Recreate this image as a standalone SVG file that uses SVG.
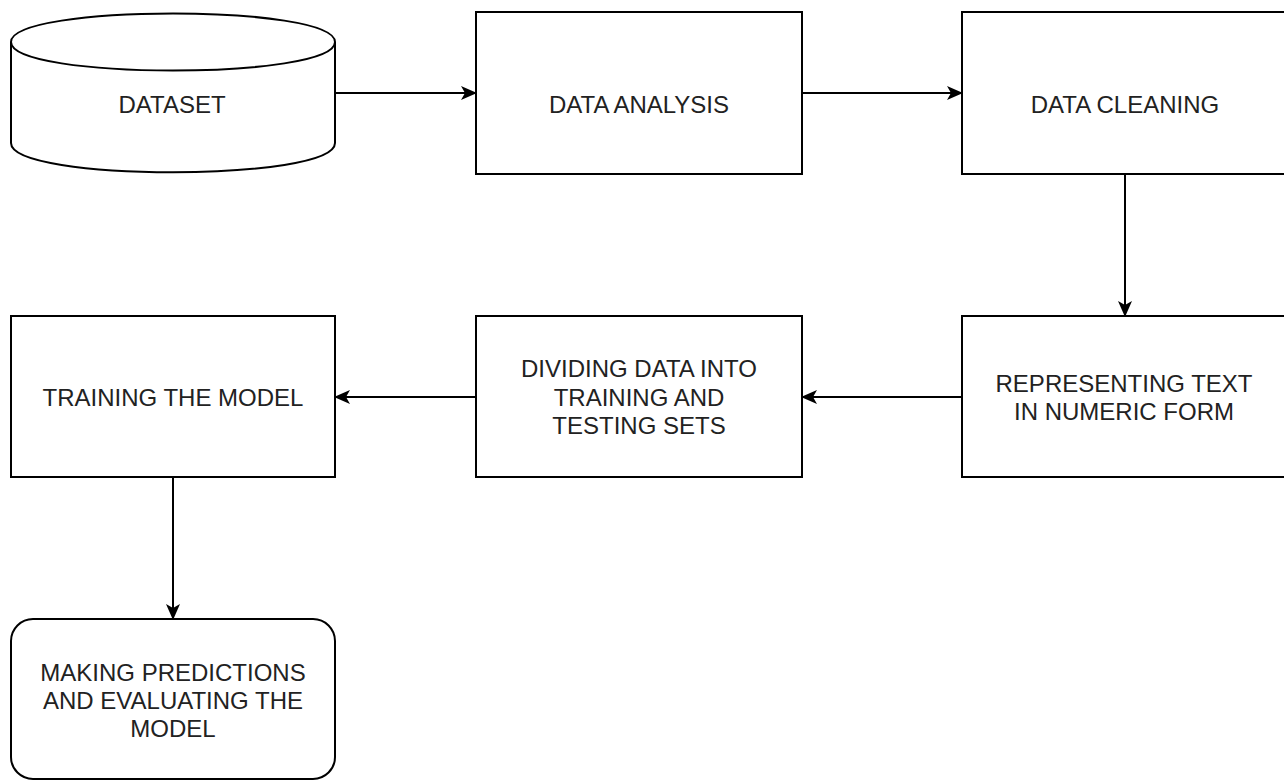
<svg xmlns="http://www.w3.org/2000/svg" width="1284" height="780" viewBox="0 0 1284 780">
<style>
.shape{fill:#fff;stroke:#000;stroke-width:2}
.lbl{font-family:"Liberation Sans",Arial,sans-serif;font-size:24px;fill:#222;text-anchor:middle}
.edge{fill:none;stroke:#000;stroke-width:2}
</style>
<defs>
<marker id="arr" viewBox="0 0 16 14" refX="15" refY="7" markerWidth="16" markerHeight="14" markerUnits="userSpaceOnUse" orient="auto">
<path d="M0,0 L16,7 L0,14 L4,7 Z" fill="#000"/>
</marker>
</defs>
<rect width="1284" height="780" fill="#fff"/>
<g id="dataset">
<path class="shape" d="M11,42 C11,4 335,4 335,42 L335,143 C335,182 11,182 11,143 Z"/>
<path class="shape" fill="none" d="M11,42 C11,80 335,80 335,42"/>
<text class="lbl" x="172" y="113">DATASET</text>
</g>
<g id="data-analysis">
<rect class="shape" x="476" y="12" width="326" height="162"/>
<text class="lbl" x="639" y="113">DATA ANALYSIS</text>
</g>
<g id="data-cleaning">
<rect class="shape" x="962" y="12" width="326" height="162"/>
<text class="lbl" x="1125" y="113">DATA CLEANING</text>
</g>
<g id="representing">
<rect class="shape" x="962" y="316" width="326" height="161"/>
<text class="lbl" x="1124" y="392">REPRESENTING TEXT</text>
<text class="lbl" x="1124" y="420">IN NUMERIC FORM</text>
</g>
<g id="dividing">
<rect class="shape" x="476" y="316" width="326" height="161"/>
<text class="lbl" x="639" y="377">DIVIDING DATA INTO</text>
<text class="lbl" x="639" y="405.5">TRAINING AND</text>
<text class="lbl" x="639" y="434">TESTING SETS</text>
</g>
<g id="training">
<rect class="shape" x="11" y="316" width="324" height="161"/>
<text class="lbl" x="173" y="406">TRAINING THE MODEL</text>
</g>
<g id="predictions">
<rect class="shape" x="11" y="619" width="324" height="160" rx="22" ry="22"/>
<text class="lbl" x="173" y="681">MAKING PREDICTIONS</text>
<text class="lbl" x="173" y="709">AND EVALUATING THE</text>
<text class="lbl" x="173" y="737">MODEL</text>
</g>
<g id="connectors">
<line class="edge" x1="335" y1="93" x2="476" y2="93" marker-end="url(#arr)"/>
<line class="edge" x1="802" y1="93" x2="962" y2="93" marker-end="url(#arr)"/>
<line class="edge" x1="1125" y1="174" x2="1125" y2="316" marker-end="url(#arr)"/>
<line class="edge" x1="962" y1="397" x2="802" y2="397" marker-end="url(#arr)"/>
<line class="edge" x1="476" y1="397" x2="335" y2="397" marker-end="url(#arr)"/>
<line class="edge" x1="173" y1="477" x2="173" y2="619" marker-end="url(#arr)"/>
</g>
</svg>
